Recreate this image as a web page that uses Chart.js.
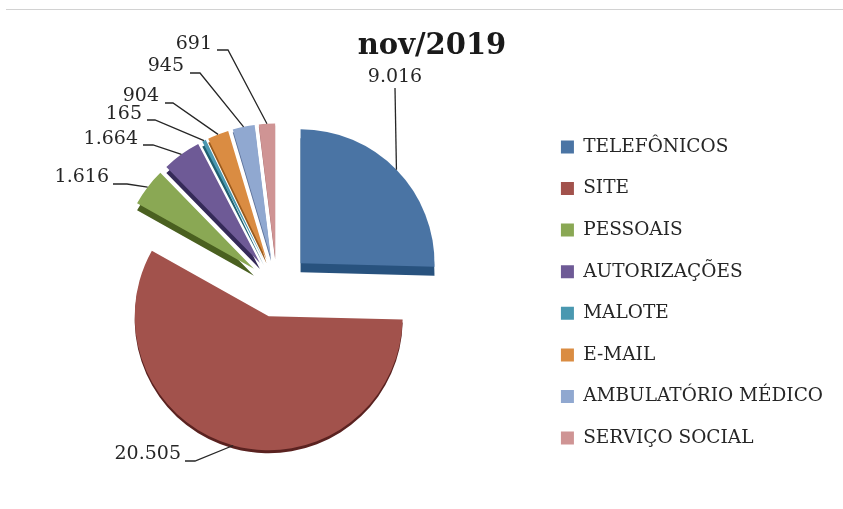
<!DOCTYPE html>
<html>
<head>
<meta charset="utf-8">
<title>nov/2019</title>
<script src="https://cdn.jsdelivr.net/npm/chart.js@4"></script>
<style>
  html, body { margin: 0; padding: 0; background: #fff; }
  #wrap { position: relative; width: 843px; height: 509px; }
  #rule { position: absolute; left: 6px; right: 0; top: 9px; height: 1px; background: #d2d2d2; }
</style>
</head>
<body>
<div id="wrap">
  <canvas id="chart-wrapper" width="843" height="509"></canvas>
  <div id="rule"></div>
</div>
<script>
const categories = ["TELEFÔNICOS", "SITE", "PESSOAIS", "AUTORIZAÇÕES", "MALOTE", "E-MAIL", "AMBULATÓRIO MÉDICO", "SERVIÇO SOCIAL"];
const values = [9016, 20505, 1616, 1664, 165, 904, 945, 691];
const colors = ["#4a74a4", "#a2524c", "#8aa854", "#6e5a96", "#4a98b0", "#da8c42", "#90a8d0", "#cf9494"];
const sideColors = ["#28527e", "#5a2220", "#4a6020", "#352a58", "#1f6070", "#9a5a1c", "#5a7098", "#a06565"];
const sliceShifts = [33, 31, 29, 29, 29, 29, 29, 29];
const sliceDepths = [9, 3, 7, 6, 5, 4, 3, 2];
const pieRadius = 134;

const serif = "'DejaVu Serif', serif";

// where each value label sits: text anchor, then the elbow of its leader line
const labelSpots = [
  { x: 395, y: 77, align: "center", elbow: [395, 88] },
  { x: 181, y: 454, align: "right", elbow: [195, 461], start: [185, 461] },
  { x: 109, y: 177, align: "right", elbow: [127, 184], start: [113, 184] },
  { x: 138, y: 139, align: "right", elbow: [153, 145], start: [143, 145] },
  { x: 142, y: 114, align: "right", elbow: [155, 120], start: [147, 120] },
  { x: 159, y: 96, align: "right", elbow: [173, 103], start: [165, 103] },
  { x: 184, y: 66, align: "right", elbow: [200, 73], start: [190, 73] },
  { x: 212, y: 44, align: "right", elbow: [228, 50], start: [217, 50] },
];

function formatValue(v) {
  return v.toLocaleString("pt-BR");
}

// exploded slices plus a darker copy pushed down for the 3D side
// (the offset option narrows small slices and drops the thinnest, so move them here)
const sidePlugin = {
  id: "sliceSides",
  afterDatasetUpdate(chart) {
    chart.getDatasetMeta(0).data.forEach((arc, i) => {
      const mid = (arc.startAngle + arc.endAngle) / 2;
      arc.x += Math.cos(mid) * sliceShifts[i];
      arc.y += Math.sin(mid) * sliceShifts[i];
    });
  },
  beforeDatasetsDraw(chart) {
    const { ctx } = chart;
    chart.getDatasetMeta(0).data.forEach((arc, i) => {
      const saved = arc.options;
      arc.options = Object.assign({}, saved, {
        backgroundColor: sideColors[i],
        borderColor: sideColors[i],
        borderWidth: 0,
      });
      ctx.save();
      ctx.translate(0, sliceDepths[i]);
      arc.draw(ctx);
      ctx.restore();
      arc.options = saved;
    });
  },
};

const labelPlugin = {
  id: "leaderLabels",
  afterLayout(chart) {
    chart.legend.left -= 3;
    chart.legend.right -= 3;
    chart.legend.top += 23.5;
    chart.legend.bottom += 23.5;
    chart.titleBlock.left += 7.5;
    chart.titleBlock.right += 7.5;
  },
  afterDatasetsDraw(chart) {
    const { ctx } = chart;
    ctx.save();
    ctx.font = "19px " + serif;
    ctx.fillStyle = "#262626";
    ctx.strokeStyle = "#262626";
    ctx.lineWidth = 1.3;
    ctx.textBaseline = "middle";
    chart.getDatasetMeta(0).data.forEach((arc, i) => {
      const spot = labelSpots[i];
      const mid = (arc.startAngle + arc.endAngle) / 2;
      const px = arc.x + Math.cos(mid) * pieRadius;
      const py = arc.y + Math.sin(mid) * pieRadius;
      ctx.beginPath();
      if (spot.start) ctx.moveTo(spot.start[0], spot.start[1]);
      else ctx.moveTo(spot.elbow[0], spot.elbow[1]);
      ctx.lineTo(spot.elbow[0], spot.elbow[1]);
      ctx.lineTo(px, py);
      ctx.stroke();
      ctx.textAlign = spot.align;
      ctx.fillText(formatValue(values[i]), spot.x, spot.y);
    });
    ctx.restore();
  },
};

const myChart = new Chart(document.getElementById("chart-wrapper"), {
  type: "pie",
  data: {
    labels: categories,
    datasets: [{
      data: values,
      backgroundColor: colors,
      borderWidth: 0,
      radius: pieRadius,
    }],
  },
  options: {
    responsive: false,
    animation: false,
    layout: { padding: { left: 13, right: 7, top: 29, bottom: 0 } },
    plugins: {
      tooltip: { enabled: false },
      title: {
        display: true,
        text: "nov/2019",
        color: "#1a1a1a",
        font: { family: serif, size: 29, weight: "bold" },
        padding: 0,
      },
      legend: {
        position: "right",
        labels: {
          boxWidth: 13,
          boxHeight: 13,
          padding: 23.1,
          color: "#262626",
          font: { family: serif, size: 18.5 },
        },
      },
    },
  },
  plugins: [sidePlugin, labelPlugin],
});
</script>
</body>
</html>
